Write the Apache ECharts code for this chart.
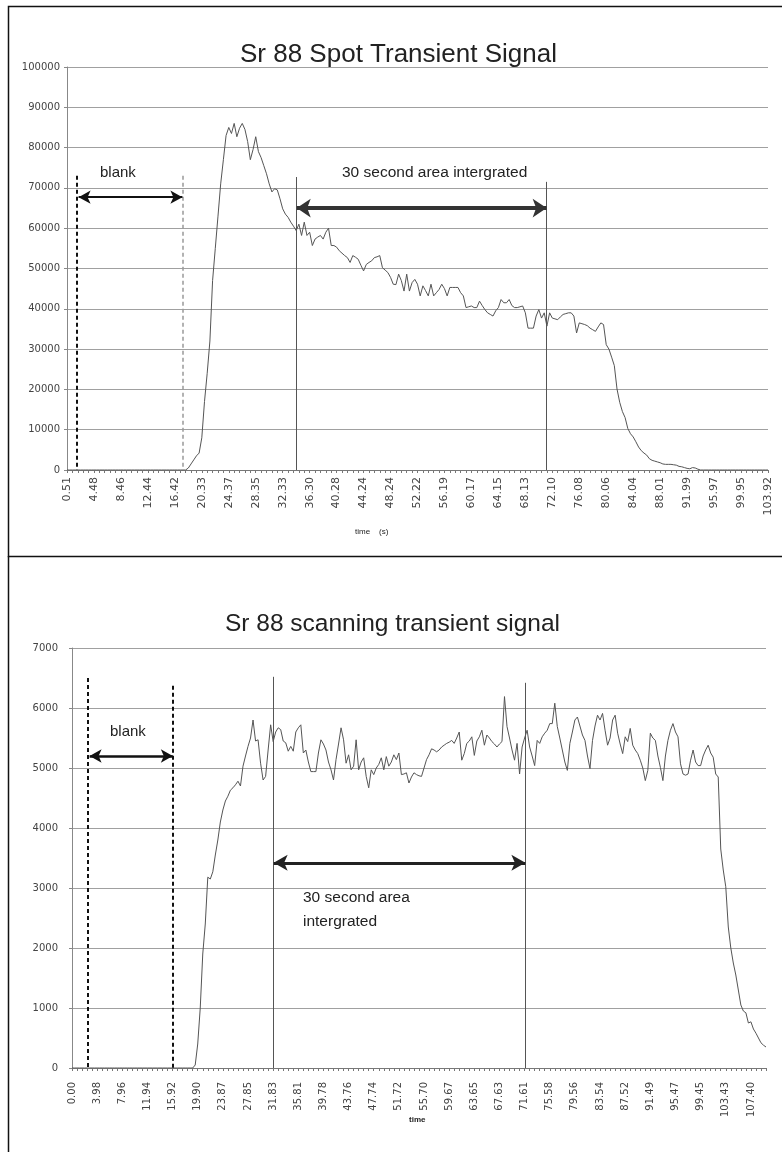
<!DOCTYPE html>
<html><head><meta charset="utf-8">
<script src="https://cdn.jsdelivr.net/npm/echarts@6/dist/echarts.min.js"></script>
<style>html,body{margin:0;padding:0;background:#fff}#c{width:782px;height:1152px}</style>
</head><body><div id="c"></div>
<script>
// ---------- DATA ----------
const spotTitle = 'Sr 88 Spot Transient Signal';
const scanTitle = 'Sr 88 scanning transient signal';
const spotTickLabels = ['0.51','4.48','8.46','12.44','16.42','20.33','24.37','28.35','32.33','36.30','40.28','44.24','48.24','52.22','56.19','60.17','64.15','68.13','72.10','76.08','80.06','84.04','88.01','91.99','95.97','99.95','103.92'];
const scanTickLabels = ['0.00','3.98','7.96','11.94','15.92','19.90','23.87','27.85','31.83','35.81','39.78','43.76','47.74','51.72','55.70','59.67','63.65','67.63','71.61','75.58','79.56','83.54','87.52','91.49','95.47','99.45','103.43','107.40'];
const spotValues = [
0,0,0,0,0,0,0,0,0,0, 0,0,0,0,0,0,0,0,0,0, 0,0,0,0,0,0,0,0,0,0, 0,0,0,0,0,0,0,0,0,0, 0,0,0,0,0,
500,1500,2500,3500,4200,8000,17000,24000,32000,47000,55000,63000,71000,77000,83000,
85000,83500,86000,82700,84800,86000,84500,81500,77000,79500,
82700,79000,77500,75500,73500,71000,69000,69800,69500,67300,
64800,63500,62700,61500,60500,59400,61000,58200,61500,58200,
59000,55700,57300,57800,58200,57300,59000,60000,55700,55700,
55300,54400,53800,53200,52700,51500,53200,52800,52300,50800,
49400,51000,51500,51900,52700,52900,53200,50200,49600,49000,
47800,46100,46000,48600,47000,44400,48600,44400,46500,47300,
46100,43200,45700,44500,43200,46100,43200,44000,44800,46100,
45000,43200,45300,45300,45300,45300,44000,43200,40300,40500,
40700,40300,40300,41900,40800,39800,39000,38600,38200,39500,
40300,42300,41500,41500,42300,40800,40300,40300,40500,40700,
39000,35200,35200,35200,38200,39800,37700,39000,35700,39000,
37700,37500,37300,38000,38600,38800,39000,39000,38200,34000,
36500,36300,36100,35800,35200,34800,34400,35500,36500,36100,
31100,30000,28000,25900,20100,16800,14500,13000,10300,9000,
8200,7000,5700,4800,4200,3700,2800,2400,2200,2000,
1800,1500,1400,1400,1400,1300,1200,900,800,600,
400,300,600,500,200,
0,0,0,0,0,0,0,0,0,0, 0,0,0,0,0,0,0,0,0,0, 0,0,0,0,0,0
];
const scanValues = [
0,0,0,0,0,0,0,0,0,0, 0,0,0,0,0,0,0,0,0,0, 0,0,0,0,0,0,0,0,0,0, 0,0,0,0,0,0,0,0,0,0, 0,0,0,0,0,0,0,0,0,
50,400,1000,1900,2400,3180,3150,3270,3550,3800,4100,
4300,4450,4530,4630,4670,4720,4780,4700,5030,5200,
5360,5500,5800,5450,5470,5080,4800,4860,5300,5720,
5440,5600,5670,5640,5450,5420,5280,5360,5280,5600,
5670,5720,5250,5300,5100,4940,4940,4940,5250,5470,
5400,5300,5100,4970,4800,5140,5400,5670,5470,5080,
5220,4970,5030,5470,4970,5100,5170,4860,4670,4970,
4890,5000,5060,5170,4970,5190,5030,5100,5220,5140,
5250,4890,4900,4920,4750,4850,4920,4890,4870,4860,
5000,5140,5220,5320,5300,5270,5300,5350,5380,5410,
5430,5460,5410,5500,5600,5130,5240,5410,5450,5520,
5210,5450,5520,5630,5380,5550,5500,5440,5400,5350,
5400,5440,6190,5690,5500,5300,5130,5410,4900,5350,
5500,5630,5350,5200,5040,5460,5410,5520,5580,5630,
5740,5740,6080,5690,5500,5300,5100,4960,5410,5600,
5800,5850,5700,5550,5460,5200,4990,5460,5700,5880,
5800,5910,5630,5380,5500,5800,5880,5580,5400,5240,
5520,5440,5660,5380,5300,5240,5130,5000,4790,4960,
5580,5500,5460,5200,5010,4790,5200,5460,5630,5740,
5600,5520,5070,4900,4880,4900,5130,5300,5100,5040,
5040,5200,5300,5380,5250,5180,4900,4850,3650,3300,
3020,2350,2000,1750,1550,1300,1050,950,920,750,
770,650,580,500,420,380,350
];
// annotation anchors (sample index)
const spotBlank = [3.7, 42.8];
const spotWindow = [84.9, 177.9];
const scanBlank = [6.4, 40.1];
const scanWindow = [79.9, 180.3];

// ---------- CHART ----------
const FONT = '"Liberation Sans", Arial, sans-serif';
const LFONT = '"DejaVu Sans", sans-serif';
const idx = n => Array.from({length: n}, (_, i) => String(i));
const spotCats = idx(spotValues.length);
const scanCats = idx(scanValues.length);
const chart = echarts.init(document.getElementById('c'), null, {renderer: 'canvas'});

function catAxis(gi, cats, labels, margin, fs) {
  return {
    type: 'category', gridIndex: gi, data: cats, boundaryGap: false,
    axisLine: {lineStyle: {color: '#777', width: 1}},
    axisTick: {show: true, interval: 1, length: 3, inside: false, lineStyle: {color: '#777'}},
    axisLabel: {interval: 9, rotate: 90, margin: margin, fontSize: fs, color: '#444', fontFamily: LFONT,
      formatter: (v, i) => labels[Math.round(i / 10)]},
    splitLine: {show: false}
  };
}
function valAxis(gi, max, step, margin) {
  return {
    type: 'value', gridIndex: gi, min: 0, max: max, interval: step,
    axisLine: {show: true, lineStyle: {color: '#888'}},
    axisTick: {show: true, length: 3, lineStyle: {color: '#888'}},
    axisLabel: {fontSize: 10, color: '#444', margin: margin, fontFamily: LFONT, formatter: v => String(v)},
    splitLine: {show: true, lineStyle: {color: '#a0a0a0', width: 1.2}}
  };
}
function hiddenX(gi, n) { return {type: 'value', gridIndex: gi, min: 0, max: n - 1, show: false}; }

function vline(x, y0, y1, style) { return [{coord: [x, y0], lineStyle: style}, {coord: [x, y1]}]; }
function arrow(x0, x1, y, style, sz) {
  return [{coord: [x0, y], lineStyle: style, symbol: 'arrow', symbolSize: sz}, {coord: [x1, y], symbol: 'arrow', symbolSize: sz}];
}

const dashBlack = {type: [4, 3], color: '#111', width: 2};
const dashGray = {type: [4, 3], color: '#999', width: 1.5};
const solid = {type: 'solid', color: '#555', width: 1};

const option = {
  animation: false,
  title: [
    {text: spotTitle, left: 235, top: 37, textStyle: {fontFamily: FONT, fontSize: 26, fontWeight: 'normal', color: '#222'}},
    {text: scanTitle, left: 220, top: 607, textStyle: {fontFamily: FONT, fontSize: 24.5, fontWeight: 'normal', color: '#222'}}
  ],
  grid: [
    {left: 67, right: 14, top: 67, height: 403, containLabel: false},
    {left: 72, right: 16, top: 648, height: 420, containLabel: false}
  ],
  xAxis: [
    catAxis(0, spotCats, spotTickLabels, 7, 11),
    catAxis(1, scanCats, scanTickLabels, 14, 10),
    hiddenX(0, spotValues.length),
    hiddenX(1, scanValues.length)
  ],
  yAxis: [valAxis(0, 100000, 10000, 7), valAxis(1, 7000, 1000, 14)],
  series: [
    {type: 'line', xAxisIndex: 0, yAxisIndex: 0, data: spotValues, showSymbol: false, symbol: 'none',
     lineStyle: {color: '#555', width: 1}},
    {type: 'line', xAxisIndex: 1, yAxisIndex: 1, data: scanValues, showSymbol: false, symbol: 'none',
     lineStyle: {color: '#555', width: 1}},
    {type: 'line', xAxisIndex: 2, yAxisIndex: 0, data: [], silent: true,
     markLine: {silent: true, symbol: 'none', label: {show: false}, animation: false, data: [
       vline(spotBlank[0], 73000, 0, dashBlack),
       vline(spotBlank[1], 73000, 0, dashGray),
       vline(spotWindow[0], 72700, 0, solid),
       vline(spotWindow[1], 71500, 0, solid),
       arrow(spotBlank[0] + 0.6, spotBlank[1], 67700, {type: 'solid', color: '#111', width: 2}, [10, 12]),
       arrow(spotWindow[0] + 0.3, spotWindow[1], 65000, {type: 'solid', color: '#333', width: 4}, [14, 14])
     ]}},
    {type: 'line', xAxisIndex: 3, yAxisIndex: 1, data: [], silent: true,
     markLine: {silent: true, symbol: 'none', label: {show: false}, animation: false, data: [
       vline(scanBlank[0], 6500, 0, dashBlack),
       vline(scanBlank[1], 6370, 0, dashBlack),
       vline(scanWindow[0], 6520, 0, solid),
       vline(scanWindow[1], 6420, 0, solid),
       arrow(scanBlank[0] + 0.6, scanBlank[1], 5200, {type: 'solid', color: '#111', width: 2.5}, [10, 12]),
       arrow(scanWindow[0] + 0.3, scanWindow[1], 3420, {type: 'solid', color: '#222', width: 3}, [12, 14])
     ]}}
  ],
  graphic: [
    {type: 'rect', shape: {x: 8.5, y: 6.5, width: 780, height: 550}, style: {fill: 'none', stroke: '#111', lineWidth: 1.5}},
    {type: 'line', shape: {x1: 8.5, y1: 556, x2: 8.5, y2: 1152}, style: {stroke: '#111', lineWidth: 1.5}},
    {type: 'text', left: 100, top: 165, style: {text: 'blank', font: '15px ' + FONT, fill: '#222'}},
    {type: 'text', left: 342, top: 165, style: {text: '30 second area intergrated', font: '15.5px ' + FONT, fill: '#222'}},
    {type: 'text', left: 355, top: 528, style: {text: 'time    (s)', font: '8px ' + FONT, fill: '#222'}},
    {type: 'text', left: 110, top: 724, style: {text: 'blank', font: '15px ' + FONT, fill: '#222'}},
    {type: 'text', left: 303, top: 890, style: {text: '30 second area', font: '15.5px ' + FONT, fill: '#222'}},
    {type: 'text', left: 303, top: 914, style: {text: 'intergrated', font: '15.5px ' + FONT, fill: '#222'}},
    {type: 'text', left: 409, top: 1116, style: {text: 'time', font: 'bold 8px ' + FONT, fill: '#222'}}
  ]
};
chart.setOption(option);
</script>
</body></html>
